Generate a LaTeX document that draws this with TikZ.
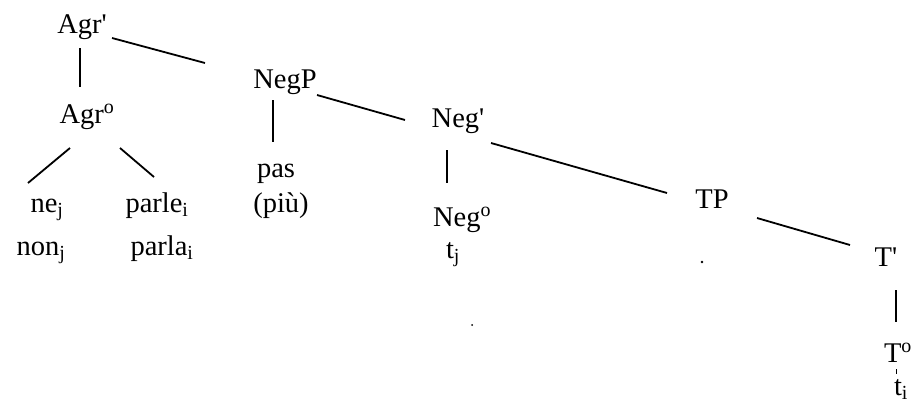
\documentclass[tikz,border=0pt]{standalone}
\usepackage{fontspec}
\setmainfont{Liberation Serif}
\usetikzlibrary{calc}
\newcommand{\pr}{\textquotesingle}
\begin{document}
\begin{tikzpicture}[x=1pt,y=-1pt,
  lbl/.style={anchor=base,inner sep=0pt,font=\fontsize{28.5}{33}\selectfont},
  edge/.style={line width=1.8pt},
  thin edge/.style={line width=0.8pt}]
\useasboundingbox (0,0) rectangle (919,415);
\fill[white] (0,0) rectangle (919,415);
% nodes
\node[lbl] (agrbar) at (82,33) {Agr\pr};
\node[lbl] (agro) at (87,123) {Agr\textsuperscript{o}};
\node[lbl] (nej) at (47,212) {ne\textsubscript{j}};
\node[lbl] (parlei) at (157,212) {parle\textsubscript{i}};
\node[lbl] (nonj) at (41,255) {non\textsubscript{j}};
\node[lbl] (parlai) at (162,255) {parla\textsubscript{i}};
\node[lbl] (negp) at (285,88) {NegP};
\node[lbl] (pas) at (276,177) {pas};
\node[lbl] (piu) at (281,212) {(più)};
\node[lbl] (negbar) at (458,127) {Neg\pr};
\node[lbl] (nego) at (462,226) {Neg\textsuperscript{o}};
\node[lbl] (tj) at (453,258) {t\textsubscript{j}};
\node[lbl] (tp) at (712,208) {TP};
\node[lbl] (tbar) at (886,266) {T\pr};
\node[lbl] (to) at (898,362) {T\textsuperscript{o}};
\node[lbl] (ti) at (901,395) {t\textsubscript{i}};
% stray dots
\fill (702,262) circle (1.3);
\fill (472,325) circle (1);
% connectors
\draw[edge] ($(agrbar.base)+(30,5)$) -- ($(negp.base)+(-80,-25)$);
\draw[edge] ($(agrbar.base)+(-2,15)$) -- ($(agro.base)+(-7,-36)$);
\draw[edge] ($(agro.base)+(-17,25)$) -- ($(nej.base)+(-19,-29)$);
\draw[edge] ($(agro.base)+(33,25)$) -- ($(parlei.base)+(-3,-35)$);
\draw[edge] ($(negp.base)+(-12,12)$) -- ($(pas.base)+(-3,-35)$);
\draw[edge] ($(negp.base)+(32,7)$) -- ($(negbar.base)+(-53,-7)$);
\draw[edge] ($(negbar.base)+(-11,23)$) -- ($(nego.base)+(-15,-43)$);
\draw[edge] ($(negbar.base)+(33,16)$) -- ($(tp.base)+(-45,-15)$);
\draw[edge] ($(tp.base)+(45,10)$) -- ($(tbar.base)+(-36,-21)$);
\draw[edge] ($(tbar.base)+(10,24)$) -- ($(to.base)+(-2,-40)$);
\draw[thin edge] ($(to.base)+(-2,7)$) -- ($(ti.base)+(-5,-21)$);
\end{tikzpicture}
\end{document}
